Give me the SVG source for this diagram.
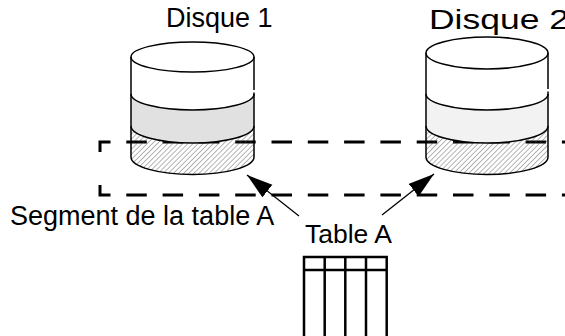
<svg xmlns="http://www.w3.org/2000/svg" width="565" height="336" viewBox="0 0 565 336">
  <style>
    .lbl { font-family: "Liberation Sans", Arial, Helvetica, sans-serif; font-size: 27px; fill: #000; }
    .dash { fill: none; stroke: #000; stroke-width: 3; stroke-dasharray: 20.5 15.8; }
    .edge { fill: none; stroke: #000; stroke-width: 1.5; }
    .white { fill: #fff; stroke: none; }
    .hatch { fill: url(#hatch); stroke: none; }
    .conn { fill: none; stroke: #000; stroke-width: 1.3; marker-end: url(#head); }
    .tbl { fill: none; stroke: #000; stroke-width: 2.5; }
  </style>
  <defs>
    <pattern id="hatch" patternUnits="userSpaceOnUse" width="3.6" height="3.6" patternTransform="rotate(45)">
      <line x1="0" y1="0" x2="0" y2="3.6" stroke="#444" stroke-width="0.8"/>
    </pattern>
    <marker id="head" markerUnits="userSpaceOnUse" markerWidth="28" markerHeight="18" refX="26" refY="8" orient="auto">
      <path d="M0,0 L26,8 L0,16 Z" fill="#000"/>
    </marker>
  </defs>

  <!-- dashed frame around the segments (open on the right) -->
  <g id="frame">
    <path class="dash" d="M100,152 L100,142 L565,142"/>
    <path class="dash" d="M100,185 L100,195 L565,195"/>
  </g>

  <!-- disk 1 -->
  <g id="disque1">
    <path class="hatch" d="M131,126 A61.5,17 0 0 0 254,126 L254,157 A61.5,17.5 0 0 1 131,157 Z"/>
    <path fill="#e1e1e1" d="M131,94 A61.5,16 0 0 0 254,94 L254,126 A61.5,17 0 0 1 131,126 Z"/>
    <path class="white" d="M131,57 L131,94 A61.5,16 0 0 0 254,94 L254,57 Z"/>
    <ellipse class="edge" cx="192.5" cy="57" rx="61.5" ry="15" fill="#fff"/>
    <path class="edge" d="M131,94 A61.5,16 0 0 0 254,94"/>
    <path class="edge" d="M131,126 A61.5,17 0 0 0 254,126"/>
    <path class="edge" d="M131,157 A61.5,17.5 0 0 0 254,157"/>
    <path class="edge" d="M131,57 L131,157 M254,57 L254,90 M254,92.5 L254,157"/>
    <text class="lbl" x="166" y="27">Disque 1</text>
  </g>

  <!-- disk 2 -->
  <g id="disque2">
    <path class="hatch" d="M426,126 A61,17 0 0 0 548,126 L548,157 A61,17.5 0 0 1 426,157 Z"/>
    <path fill="#f2f2f2" d="M426,94 A61,16 0 0 0 548,94 L548,126 A61,17 0 0 1 426,126 Z"/>
    <path class="white" d="M426,53 L426,94 A61,16 0 0 0 548,94 L548,53 Z"/>
    <ellipse class="edge" cx="487" cy="53" rx="61" ry="16" fill="#fff"/>
    <path class="edge" d="M426,94 A61,16 0 0 0 548,94"/>
    <path class="edge" d="M426,126 A61,17 0 0 0 548,126"/>
    <path class="edge" d="M426,157 A61,17.5 0 0 0 548,157"/>
    <path class="edge" d="M426,53 L426,157 M548,53 L548,89 M548,91.5 L548,157"/>
    <text class="lbl" x="429" y="29" textLength="140" lengthAdjust="spacingAndGlyphs">Disque 2</text>
  </g>

  <!-- segment label -->
  <g id="segment">
    <text class="lbl" x="10" y="225">Segment de la table A</text>
  </g>

  <!-- table A -->
  <g id="tableA">
    <text class="lbl" x="305" y="243" style="font-size:26.5px">Table A</text>
    <path class="tbl" d="M304,338 L304,257 L386.7,257 L386.7,338 M304,270 L386.7,270 M324.7,257 L324.7,338 M345.3,257 L345.3,338 M366,257 L366,338"/>
  </g>

  <!-- pointers from the table to its segments -->
  <g id="connectors">
    <line class="conn" x1="299" y1="216" x2="247" y2="175"/>
    <line class="conn" x1="382" y1="215" x2="434" y2="174"/>
  </g>
</svg>
